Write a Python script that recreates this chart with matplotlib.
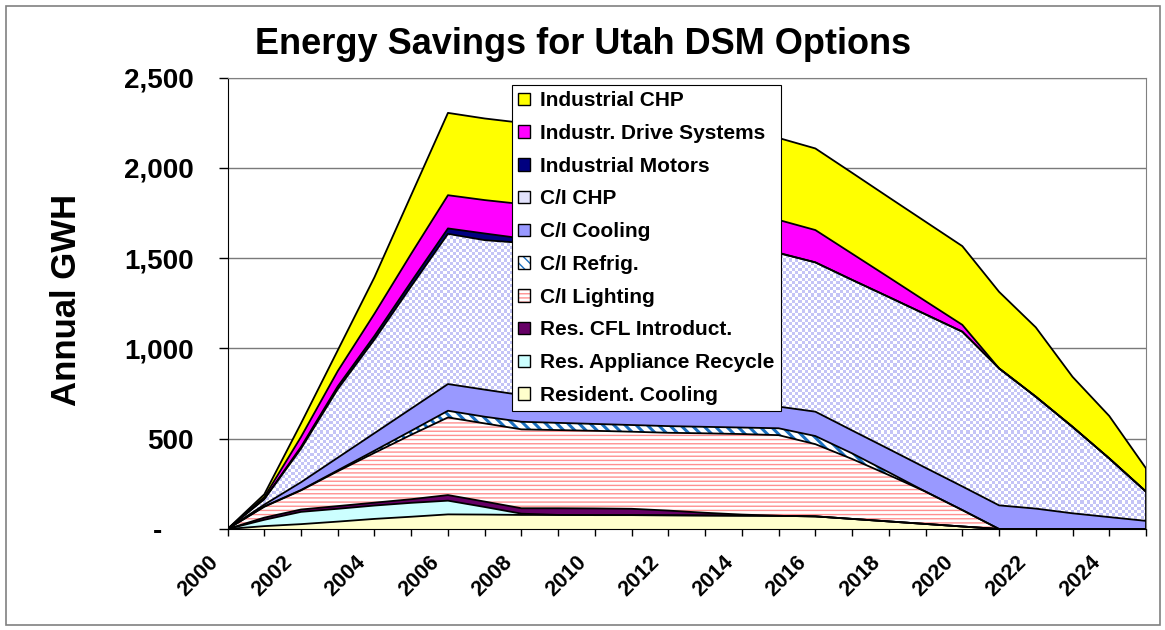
import numpy as np
import matplotlib
matplotlib.use("Agg")
import matplotlib.pyplot as plt
from matplotlib.patches import Patch, Rectangle
from matplotlib.colors import ListedColormap
from matplotlib.ticker import FixedLocator, FuncFormatter
from matplotlib.transforms import ScaledTranslation

plt.rcParams['font.family'] = ['Liberation Sans', 'DejaVu Sans']
plt.rcParams['font.weight'] = 'bold'

# annual GWh per option, 2000..2025 (stacked bottom -> top)
years = list(range(2000, 2026))
res_cooling = [0, 16, 27, 41, 56, 68, 81, 80, 78, 78, 77, 77, 76, 75, 74, 73, 70, 56, 42, 28, 14, 0, 0, 0, 0, 0]
res_recycle = [0, 35, 68, 71, 74, 77, 76, 42, 7, 0, 0, 0, 0, 0, 0, 0, 0, 0, 0, 0, 0, 0, 0, 0, 0, 0]
res_cfl = [0, 12, 13, 15, 16, 20, 31, 30, 30, 37, 37, 35, 26, 15, 6, 0, 0, 0, 0, 0, 0, 0, 0, 0, 0, 0]
ci_lighting = [0, 60, 106, 193, 276, 357, 430, 433, 437, 433, 430, 427, 431, 440, 446, 447, 400, 332, 257, 179, 91, 0, 0, 0, 0, 0]
ci_refrig = [0, 2, 2, 5, 12, 22, 37, 37, 42, 40, 38, 37, 37, 36, 36, 38, 45, 31, 15, 0, 0, 0, 0, 0, 0, 0]
ci_cooling = [0, 10, 43, 70, 97, 123, 148, 150, 148, 147, 143, 139, 135, 130, 126, 120, 135, 127, 129, 132, 131, 131, 113, 87, 66, 45]
ci_chp = [0, 30, 186, 380, 519, 678, 832, 828, 843, 840, 840, 842, 845, 847, 848, 850, 827, 834, 842, 850, 857, 759, 620, 479, 325, 162]
ind_motors = [0, 2, 10, 15, 20, 25, 30, 37, 25, 20, 17, 13, 10, 7, 4, 2, 0, 0, 0, 0, 0, 0, 0, 0, 0, 0]
ind_drive = [0, 10, 55, 85, 123, 155, 184, 185, 190, 190, 188, 188, 185, 182, 180, 182, 179, 145, 109, 73, 38, 0, 0, 0, 0, 0]
ind_chp = [0, 15, 75, 115, 202, 325, 456, 452, 450, 450, 452, 452, 455, 458, 458, 454, 452, 448, 443, 440, 436, 424, 384, 277, 235, 129]

labels = ["Resident. Cooling", "Res. Appliance Recycle", "Res. CFL Introduct.",
          "C/I Lighting", "C/I Refrig.", "C/I Cooling", "C/I CHP",
          "Industrial Motors", "Industr. Drive Systems", "Industrial CHP"]
series = [res_cooling, res_recycle, res_cfl, ci_lighting, ci_refrig,
          ci_cooling, ci_chp, ind_motors, ind_drive, ind_chp]

# fill, hatch, hatch colour, hatch width
styles = [
    ("#FFFFCC", None, None, 1.0),
    ("#CCFFFF", None, None, 1.0),
    ("#660066", None, None, 1.0),
    ("white", "----", "#FF9090", 1.0),
    ("white", "\\\\\\", "#1A6FC0", 2.2),
    ("#9999FF", None, None, 1.0),
    ("white", None, None, 1.0),   # checker drawn separately
    ("#000080", None, None, 1.0),
    ("#FF00FF", None, None, 1.0),
    ("#FFFF00", None, None, 1.0),
]

fig = plt.figure(figsize=(11.65, 6.3), dpi=100)
ax = fig.add_axes([0.1953, 0.1603, 0.7884, 0.7164])

x = np.array(years)
stack = np.array(series, dtype=float)
tops = np.cumsum(stack, axis=0)
bottoms = tops - stack

for i, (fc, h, hc, hlw) in enumerate(styles):
    with plt.rc_context({'hatch.linewidth': hlw}):
        coll = ax.fill_between(x, bottoms[i], tops[i], facecolor=fc,
                               edgecolor=hc if hc else 'none', hatch=h,
                               linewidth=0, zorder=2)
    if labels[i] == "C/I CHP":
        nx, ny = 290, 142
        cells = np.add.outer(np.arange(ny), np.arange(nx)) % 2
        im = ax.imshow(cells, cmap=ListedColormap(['white', '#C4C4F6']),
                       extent=(2000, 2025, 0, 2500), origin='lower',
                       aspect='auto', interpolation='nearest', zorder=2.5)
        im.set_clip_path(coll.get_paths()[0], ax.transData)

for i in range(len(series)):
    ax.plot(x, tops[i], color='black', lw=1.3, zorder=4)
ax.plot([2025, 2025], [0, tops[-1][-1]], color='black', lw=1.3, zorder=4)

ax.set_xlim(2000, 2025)
ax.set_ylim(0, 2500)
ax.set_axisbelow(True)
ax.yaxis.grid(True, color='#7a7a7a', lw=1)

ax.yaxis.set_major_locator(FixedLocator([0, 500, 1000, 1500, 2000, 2500]))
ax.yaxis.set_major_formatter(FuncFormatter(lambda v, p: '-' if v == 0 else f'{int(v):,}'))
ax.xaxis.set_major_locator(FixedLocator(years))
ax.xaxis.set_major_formatter(FuncFormatter(
    lambda v, p: str(int(round(v))) if int(round(v)) % 2 == 0 and v < 2025 else ''))

ax.tick_params(axis='y', direction='out', length=6.5, width=1, pad=18, labelsize=20)
ax.tick_params(axis='x', direction='out', length=5, width=1, pad=17, labelsize=15.5)
for lab in ax.get_xticklabels():
    lab.set_rotation(45)
    lab.set_ha('right')
    lab.set_va('center')
    lab.set_rotation_mode('anchor')
    lab.set_transform(lab.get_transform() + ScaledTranslation(-0.12, 0, fig.dpi_scale_trans))
ylabs = ax.get_yticklabels()
ylabs[0].set_transform(ylabs[0].get_transform() + ScaledTranslation(-0.31, 0, fig.dpi_scale_trans))

for side in ['left', 'bottom']:
    ax.spines[side].set_color('black')
for side in ['top', 'right']:
    ax.spines[side].set_color('#808080')

handles = []
for i, (fc, h, hc, hlw) in enumerate(styles):
    if h:
        handles.append((Patch(facecolor='white', edgecolor=hc, hatch=h, lw=0),
                        Patch(facecolor='none', edgecolor='black', lw=1)))
    elif labels[i] == "C/I CHP":
        handles.append(Patch(facecolor='#E2E2FC', edgecolor='black', lw=1))
    else:
        handles.append(Patch(facecolor=fc, edgecolor='black', lw=1))

leg = ax.legend(handles[::-1], labels[::-1], loc='upper left',
                bbox_to_anchor=(0.3097, 0.9838), borderaxespad=0,
                frameon=True, fancybox=False, edgecolor='black', framealpha=1,
                fontsize=15, handlelength=0.55, handleheight=0.55,
                handletextpad=0.5, labelspacing=0.66, borderpad=0.3)
leg.get_frame().set_linewidth(0.8)
leg.set_zorder(10)

fig.text(0.5004, 0.9286, "Energy Savings for Utah DSM Options",
         ha='center', va='center', fontsize=26, fontweight='bold')
fig.text(0.0575, 0.524, "Annual GWH", rotation=90, ha='center', va='center',
         fontsize=25, fontweight='bold')

fig.patches.append(Rectangle((6 / 1165, 5 / 630), 1154 / 1165, 619 / 630,
                             transform=fig.transFigure, fill=False,
                             edgecolor='#808080', lw=1.2))

fig.savefig("out.png", dpi=100)
